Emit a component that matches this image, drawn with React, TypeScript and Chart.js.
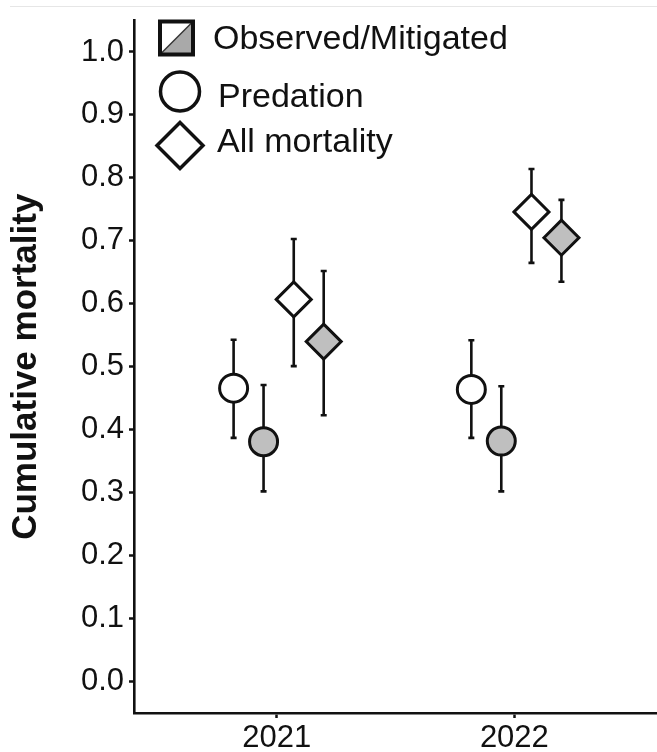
import React, { useEffect, useRef } from 'react';
import { Chart, registerables } from 'chart.js';

Chart.register(...registerables);

// ---- data ----
const years = ['2021', '2022'];

const predation = [0.466, 0.464];
const predationLo = [0.387, 0.387];
const predationHi = [0.543, 0.542];

const predationMitigated = [0.381, 0.382];
const predationMitigatedLo = [0.302, 0.302];
const predationMitigatedHi = [0.471, 0.469];

const allMortality = [0.607, 0.746];
const allMortalityLo = [0.501, 0.665];
const allMortalityHi = [0.703, 0.814];

const allMortalityMitigated = [0.54, 0.705];
const allMortalityMitigatedLo = [0.423, 0.635];
const allMortalityMitigatedHi = [0.652, 0.765];

const yTicks = [0.0, 0.1, 0.2, 0.3, 0.4, 0.5, 0.6, 0.7, 0.8, 0.9, 1.0];
const legendLabels = ['Observed/Mitigated', 'Predation', 'All mortality'];
const yTitle = 'Cumulative mortality';

// ---- styling ----
const FONT = '"Liberation Sans", Arial, Helvetica, sans-serif';
const INK = '#111111';
const GRAY = '#bfbfbf';

type Series = {
  values: number[];
  lo: number[];
  hi: number[];
  dodge: number;
  shape: 'circle' | 'rectRot';
  fill: string;
};

const series: Series[] = [
  { values: predation, lo: predationLo, hi: predationHi, dodge: -0.181, shape: 'circle', fill: '#ffffff' },
  { values: predationMitigated, lo: predationMitigatedLo, hi: predationMitigatedHi, dodge: -0.055, shape: 'circle', fill: GRAY },
  { values: allMortality, lo: allMortalityLo, hi: allMortalityHi, dodge: 0.072, shape: 'rectRot', fill: '#ffffff' },
  { values: allMortalityMitigated, lo: allMortalityMitigatedLo, hi: allMortalityMitigatedHi, dodge: 0.198, shape: 'rectRot', fill: GRAY },
];

const errorBarPlugin = {
  id: 'errorBars',
  beforeDatasetsDraw(chart: any) {
    const ctx = chart.ctx;
    const xs = chart.scales.x;
    const ys = chart.scales.y;
    ctx.save();
    ctx.strokeStyle = INK;
    ctx.lineWidth = 2.6;
    ctx.lineCap = 'butt';
    series.forEach((s) => {
      s.values.forEach((_, i) => {
        const px = xs.getPixelForValue(i + 1 + s.dodge);
        const top = ys.getPixelForValue(s.hi[i]);
        const bot = ys.getPixelForValue(s.lo[i]);
        ctx.beginPath();
        ctx.moveTo(px, top);
        ctx.lineTo(px, bot);
        ctx.moveTo(px - 3, top);
        ctx.lineTo(px + 3, top);
        ctx.moveTo(px - 3, bot);
        ctx.lineTo(px + 3, bot);
        ctx.stroke();
      });
    });
    ctx.restore();
  },
};

const legendPlugin = {
  id: 'customLegend',
  afterDraw(chart: any) {
    const ctx = chart.ctx;
    const { left, top } = chart.chartArea;
    ctx.save();
    // item 1: half-filled square
    const sx = left + 26;
    const sy = top + 1;
    const sz = 33;
    ctx.fillStyle = '#ffffff';
    ctx.fillRect(sx, sy, sz, sz);
    ctx.fillStyle = '#a9a9a9';
    ctx.beginPath();
    ctx.moveTo(sx + sz, sy);
    ctx.lineTo(sx + sz, sy + sz);
    ctx.lineTo(sx, sy + sz);
    ctx.closePath();
    ctx.fill();
    ctx.strokeStyle = '#333';
    ctx.lineWidth = 1.5;
    ctx.beginPath();
    ctx.moveTo(sx, sy + sz);
    ctx.lineTo(sx + sz, sy);
    ctx.stroke();
    ctx.strokeStyle = INK;
    ctx.lineWidth = 4;
    ctx.strokeRect(sx, sy, sz, sz);

    // item 2: circle
    ctx.fillStyle = '#ffffff';
    ctx.lineWidth = 3.5;
    ctx.beginPath();
    ctx.arc(left + 46, top + 71, 19.5, 0, Math.PI * 2);
    ctx.fill();
    ctx.stroke();

    // item 3: diamond
    const dx = left + 46;
    const dy = top + 125;
    const r = 23;
    ctx.beginPath();
    ctx.moveTo(dx - r, dy);
    ctx.lineTo(dx, dy - r);
    ctx.lineTo(dx + r, dy);
    ctx.lineTo(dx, dy + r);
    ctx.closePath();
    ctx.fill();
    ctx.stroke();

    // texts
    ctx.fillStyle = INK;
    ctx.font = `34px ${FONT}`;
    ctx.textBaseline = 'alphabetic';
    ctx.textAlign = 'left';
    ctx.fillText(legendLabels[0], left + 79, top + 28);
    ctx.fillText(legendLabels[1], left + 84, top + 86);
    ctx.fillText(legendLabels[2], left + 83, top + 131);
    ctx.restore();
  },
};

export default function App() {
  const canvasRef = useRef<HTMLCanvasElement | null>(null);

  useEffect(() => {
    document.body.style.margin = '0';
    document.body.style.overflow = 'hidden';
    if (!canvasRef.current) return;
    const datasets = series.map((s) => ({
      data: s.values.map((v, i) => ({ x: i + 1 + s.dodge, y: v })),
      pointStyle: s.shape,
      pointRadius: s.shape === 'circle' ? 14 : 17.5,
      pointBorderWidth: 3,
      pointBackgroundColor: s.fill,
      pointBorderColor: INK,
      showLine: false,
    }));

    const chart = new Chart(canvasRef.current, {
      type: 'scatter',
      data: { datasets },
      options: {
        animation: false,
        responsive: true,
        maintainAspectRatio: false,
        events: [],
        layout: { autoPadding: false, padding: { top: 17, right: 0, left: 0, bottom: 0 } },
        plugins: {
          legend: { display: false },
          tooltip: { enabled: false },
        },
        scales: {
          x: {
            type: 'linear',
            min: 0.4,
            max: 2.6,
            afterFit: (scale: any) => {
              scale.height = 39;
            },
            afterBuildTicks: (scale: any) => {
              scale.ticks = years.map((_, i) => ({ value: i + 1 }));
            },
            ticks: {
              callback: (v: any) => years[Math.round(Number(v)) - 1] ?? '',
              font: { family: FONT, size: 31 },
              color: INK,
              padding: 2,
              maxRotation: 0,
              autoSkip: false,
            },
            grid: {
              display: true,
              drawOnChartArea: false,
              drawTicks: true,
              tickLength: 5,
              tickWidth: 2.5,
              tickColor: INK,
            },
            border: { display: true, color: INK, width: 2.6 },
          },
          y: {
            type: 'linear',
            min: -0.05,
            max: 1.05,
            afterFit: (scale: any) => {
              scale.width = 134;
            },
            afterBuildTicks: (scale: any) => {
              scale.ticks = yTicks.map((v) => ({ value: v }));
            },
            ticks: {
              callback: (v: any) => Number(v).toFixed(1),
              font: { family: FONT, size: 31, lineHeight: 1 },
              color: INK,
              padding: 5,
              autoSkip: false,
            },
            grid: {
              display: true,
              drawOnChartArea: false,
              drawTicks: true,
              tickLength: 5,
              tickWidth: 2.5,
              tickColor: INK,
            },
            border: { display: true, color: INK, width: 2.6 },
            title: {
              display: true,
              text: yTitle,
              font: { family: FONT, size: 35, weight: 'bold' },
              color: INK,
              padding: { top: 5, bottom: 0 },
            },
          },
        },
      },
      plugins: [errorBarPlugin, legendPlugin],
    } as any);

    return () => {
      chart.destroy();
    };
  }, []);

  return (
    <div style={{ position: 'absolute', left: 0, top: 0, width: 657, height: 752, background: '#fff', overflow: 'hidden' }}>
      <div style={{ position: 'absolute', left: 10, right: 0, top: 6, height: 1, background: '#e6e6e6' }} />
      <canvas ref={canvasRef} style={{ display: 'block' }} />
    </div>
  );
}
